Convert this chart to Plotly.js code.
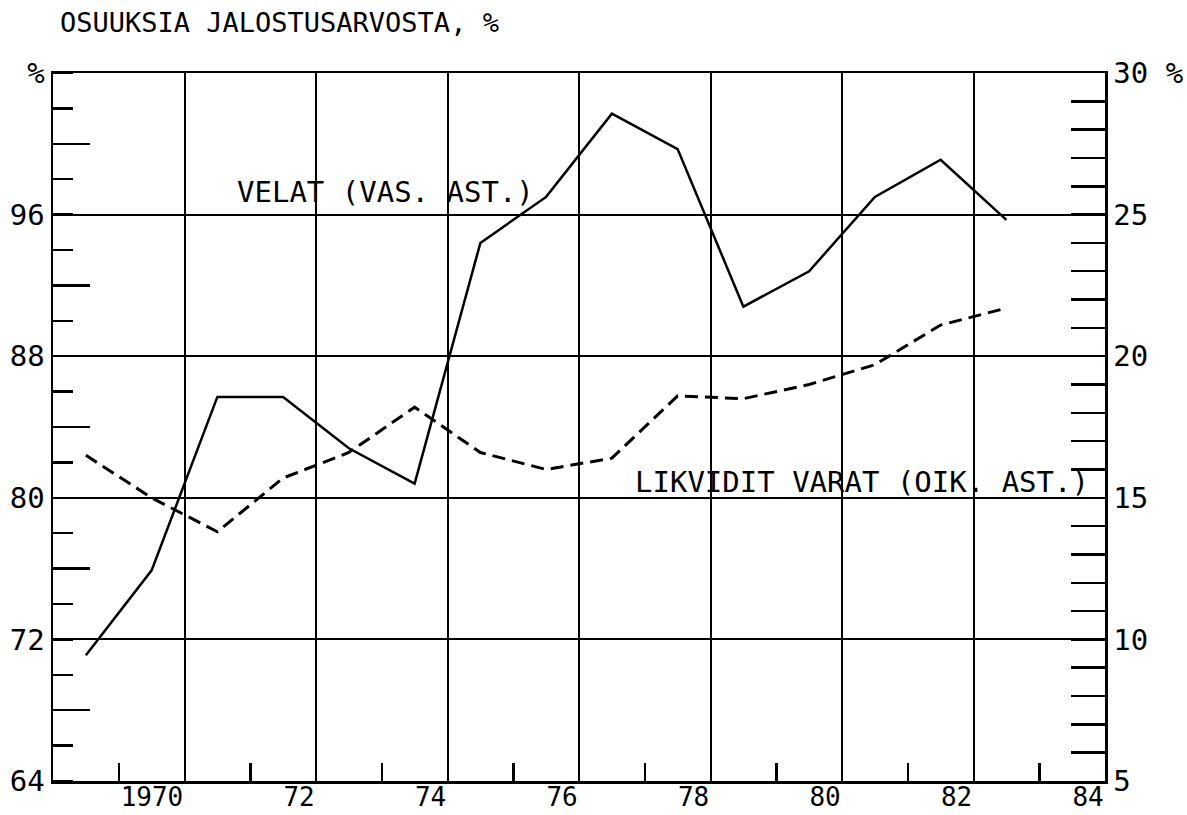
<!DOCTYPE html>
<html>
<head>
<meta charset="utf-8">
<script src="https://cdn.plot.ly/plotly-3.0.1.min.js"></script>
<style>
  html, body { margin: 0; padding: 0; background: #fff; }
  #chart { width: 1187px; height: 815px; }
</style>
</head>
<body>
<div id="chart"></div>
<script>
// Annual values, plotted at mid-year
var years = [1968, 1969, 1970, 1971, 1972, 1973, 1974, 1975, 1976, 1977, 1978, 1979, 1980, 1981, 1982];
// Velat, % of value added (left axis)
var velat = [71.1, 75.9, 85.7, 85.7, 82.8, 80.8, 94.4, 97.0, 101.7, 99.7, 90.8, 92.8, 97.0, 99.1, 95.7];
// Likvidit varat, % of value added (right axis)
var likvidit = [16.5, 15.0, 13.8, 15.7, 16.6, 18.2, 16.6, 16.0, 16.4, 18.6, 18.5, 19.0, 19.7, 21.1, 21.7];

var xTickVals = [1970, 1972, 1974, 1976, 1978, 1980, 1982, 1984];
var xTickText = ['1970', '72', '74', '76', '78', '80', '82', '84'];
var leftTickVals = [64, 72, 80, 88, 96, 104];
var leftTickText = ['64', '72', '80', '88', '96', '%'];
var leftLongTicks = [68, 76, 84, 92, 100];
var rightTickVals = [5, 10, 15, 20, 25, 30];
var rightTickText = ['5', '10', '15', '20', '25', '30 %'];

var font = 'DejaVu Sans Mono, Liberation Mono, monospace';
var midYear = years.map(function(y) { return y + 0.5; });

var velatTrace = {
  x: midYear,
  y: velat,
  mode: 'lines',
  type: 'scatter',
  line: {color: 'black', width: 2.5},
  yaxis: 'y',
  hoverinfo: 'skip'
};
var likviditTrace = {
  x: midYear,
  y: likvidit,
  mode: 'lines',
  type: 'scatter',
  line: {color: 'black', width: 3, dash: '13px,7px'},
  yaxis: 'y2',
  hoverinfo: 'skip'
};

var layout = {
  width: 1187,
  height: 815,
  paper_bgcolor: 'white',
  plot_bgcolor: 'white',
  showlegend: false,
  margin: {l: 53, r: 82, t: 73, b: 34},
  font: {family: font, size: 29, color: 'black'},
  title: {
    text: 'OSUUKSIA JALOSTUSARVOSTA, %',
    font: {family: font, size: 27, color: 'black'},
    xref: 'container', yref: 'container',
    x: 60 / 1187, xanchor: 'left',
    y: 1 - 23 / 815, yanchor: 'middle'
  },
  xaxis: {
    range: [1968, 1984],
    tickmode: 'array',
    tickvals: xTickVals,
    ticktext: xTickText,
    ticklabelposition: 'outside left',
    ticklabelstandoff: -9,
    ticks: '',
    showgrid: true,
    gridcolor: 'black',
    gridwidth: 2,
    zeroline: false,
    showline: true,
    mirror: true,
    linecolor: 'black',
    linewidth: 2.5,
    minor: {tick0: 1969, dtick: 2, ticks: 'inside', ticklen: 18, tickwidth: 2.5, tickcolor: 'black', showgrid: false},
    tickfont: {family: font, size: 26}
  },
  yaxis: {
    range: [64, 104],
    tickmode: 'array',
    tickvals: leftTickVals,
    ticktext: leftTickText,
    ticks: '',
    showgrid: true,
    gridcolor: 'black',
    gridwidth: 2,
    zeroline: false,
    showline: true,
    linecolor: 'black',
    linewidth: 2.5,
    minor: {tick0: 64, dtick: 2, ticks: 'inside', ticklen: 20, tickwidth: 2.5, tickcolor: 'black', showgrid: false},
    tickfont: {family: font, size: 29}
  },
  yaxis2: {
    range: [5, 30],
    overlaying: 'y',
    side: 'right',
    anchor: 'x',
    tickmode: 'array',
    tickvals: rightTickVals,
    ticktext: rightTickText,
    ticks: 'inside',
    ticklen: 34,
    tickwidth: 2.5,
    tickcolor: 'black',
    showgrid: false,
    zeroline: false,
    showline: true,
    linecolor: 'black',
    linewidth: 2.5,
    minor: {tick0: 5, dtick: 1, ticks: 'inside', ticklen: 34, tickwidth: 2.5, tickcolor: 'black', showgrid: false},
    tickfont: {family: font, size: 29}
  },
  // longer inside ticks on the left axis
  yaxis3: {
    range: [64, 104],
    overlaying: 'y',
    anchor: 'x',
    side: 'left',
    tickmode: 'array',
    tickvals: leftLongTicks,
    ticks: 'inside',
    ticklen: 37,
    tickwidth: 2.5,
    tickcolor: 'black',
    showticklabels: false,
    showgrid: false,
    zeroline: false,
    showline: false
  },
  annotations: [
    {
      text: 'VELAT (VAS. AST.)',
      x: 1970.77, y: 97.3, xref: 'x', yref: 'y',
      xanchor: 'left', yanchor: 'middle', showarrow: false,
      font: {family: font, size: 29, color: 'black'}
    },
    {
      text: 'LIKVIDIT VARAT (OIK. AST.)',
      x: 1976.82, y: 80.9, xref: 'x', yref: 'y',
      xanchor: 'left', yanchor: 'middle', showarrow: false,
      font: {family: font, size: 29, color: 'black'}
    }
  ]
};

var dummy = {x: [], y: [], yaxis: 'y3', type: 'scatter', mode: 'lines', hoverinfo: 'skip'};

Plotly.newPlot('chart', [velatTrace, likviditTrace, dummy], layout, {staticPlot: true});
</script>
</body>
</html>
